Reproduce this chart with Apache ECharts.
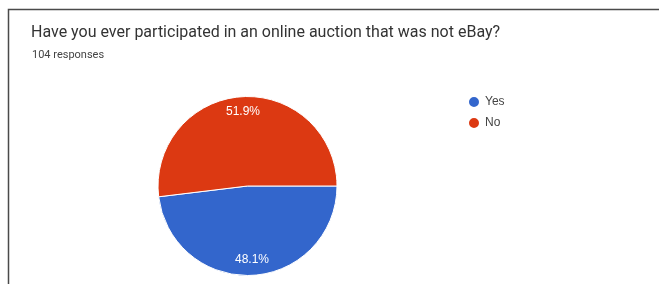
<!DOCTYPE html>
<html>
<head>
<meta charset="utf-8">
<script src="https://cdn.jsdelivr.net/npm/echarts@6/dist/echarts.min.js"></script>
<style>html,body{margin:0;padding:0;background:#fff;}#c{width:659px;height:284px;}</style>
</head>
<body>
<div id="c"></div>
<script>
const titleText = "Have you ever participated in an online auction that was not eBay?";
const subtitleText = "104 responses";
const categories = ["Yes", "No"];
const counts = [50, 54];
const colors = ["#3366cc", "#dc3912"];

const data = categories.map((c, i) => ({ name: c, value: counts[i], itemStyle: { color: colors[i] } }));
const chart = echarts.init(document.getElementById('c'), null, { renderer: 'canvas' });
chart.setOption({
  animation: false,
  backgroundColor: '#fff',
  graphic: [{
    type: 'rect', shape: { x: 8.5, y: 9.5, width: 700, height: 400 },
    style: { fill: 'none', stroke: '#4a4a4a', lineWidth: 1.5 }, silent: true
  }],
  title: [
    { text: titleText, left: 31, top: 23, padding: 0,
      textStyle: { fontFamily: 'Roboto, Arial, sans-serif', fontSize: 16, fontWeight: 'normal', color: '#333333', lineHeight: 20 } },
    { text: subtitleText, left: 32, top: 48, padding: 0,
      textStyle: { fontFamily: 'Roboto, Arial, sans-serif', fontSize: 11, fontWeight: 'normal', color: '#444444', lineHeight: 14 } }
  ],
  legend: {
    orient: 'vertical', left: 467, top: 95, padding: 0,
    icon: 'circle', itemWidth: 12, itemHeight: 12, itemGap: 7,
    data: categories,
    textStyle: { fontFamily: 'Arial, sans-serif', fontSize: 12, color: '#444444' }
  },
  series: [
    {
      type: 'pie', center: [247.5, 186], radius: [0, 89.5],
      startAngle: 0, clockwise: true, silent: true,
      itemStyle: { borderColor: '#fff', borderWidth: 1 },
      label: { show: false }, labelLine: { show: false },
      data: data
    },
    {
      type: 'pie', center: [247.5, 186], radius: [53, 89.5],
      startAngle: 0, clockwise: true, silent: true,
      itemStyle: { color: 'transparent', borderWidth: 0 },
      label: { show: true, position: 'inside', formatter: p => p.percent.toFixed(1) + '%',
        color: '#fff', fontFamily: 'Arial, sans-serif', fontSize: 12 },
      labelLine: { show: false },
      legendHoverLink: false,
      data: categories.map((c, i) => ({ name: c + ' ', value: counts[i] }))
    }
  ]
});
</script>
</body>
</html>
